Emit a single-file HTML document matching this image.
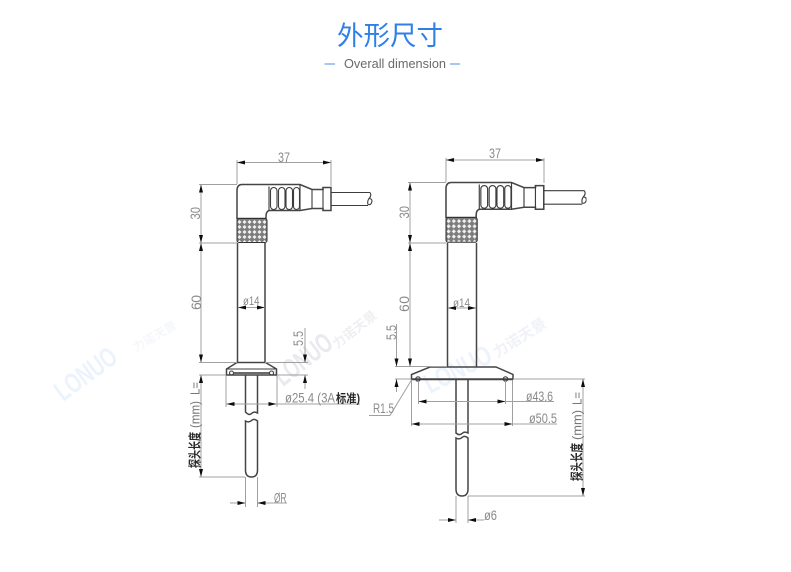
<!DOCTYPE html>
<html>
<head>
<meta charset="utf-8">
<style>
html,body{margin:0;padding:0;background:#fff}
body{width:791px;height:572px;overflow:hidden;position:relative}
svg{position:absolute;left:0;top:0}
text{font-family:"Liberation Sans","Noto Sans CJK SC",sans-serif}
.t{fill:#8a8a8a;font-size:14px}
.k{fill:#2a2a2a;font-size:13px;font-weight:700}
.d{stroke:#a0a0a0;stroke-width:1;fill:none}
.o{stroke:#3c3c3c;stroke-width:1.1;fill:none}
.ob{stroke:#444;stroke-width:1.5;fill:none}
.w{font-weight:700}
</style>
</head>
<body>
<svg width="791" height="572" viewBox="0 0 791 572" xmlns="http://www.w3.org/2000/svg">
<defs>
<marker id="a" viewBox="0 0 8 4" refX="8" refY="2" markerWidth="8" markerHeight="4" markerUnits="userSpaceOnUse" orient="auto-start-reverse"><path d="M0 0L8 2L0 4Z" fill="#111"/></marker>
<pattern id="kn" width="5" height="5" patternUnits="userSpaceOnUse"><rect width="5" height="5" fill="#7d7d7d"/><path d="M2.5 .5L4.5 2.5L2.5 4.5L.5 2.5Z" fill="#f2f2f2"/></pattern>
<filter id="b" x="0" y="0" width="100%" height="100%"><feGaussianBlur stdDeviation="0.3"/></filter>
<g id="head">
<path class="ob" d="M0 6Q0 0 5 0H63L75 5H86V3H94V26H86V24H75L63 26H32Q29 27 29 32V34H0Z"/>
<path class="o" d="M32 2V26M63 0V26M75 5V24M86 3V26"/>
<g class="o">
<rect x="33.5" y="3" width="6.5" height="22" rx="3.2"/>
<rect x="41.5" y="3" width="6.5" height="22" rx="3.2"/>
<rect x="49" y="3" width="6.5" height="22" rx="3.2"/>
<rect x="56.5" y="3" width="6" height="22" rx="3"/>
<path d="M94 8H133M94 21H131"/>
<path d="M133 8Q135 11 132 14Q130 17 131 20Q134 21 135 17Q135 14 132 14"/>
</g>
<rect x="0" y="34" width="30" height="24" rx="2" fill="url(#kn)" stroke="#333"/>
</g>
</defs>

<g class="w" fill="#edf3fc">
<text transform="translate(63,402) rotate(-36)" font-size="28" textLength="70" lengthAdjust="spacingAndGlyphs">LONUO</text>
<text transform="translate(136,352) rotate(-30)" font-size="12" fill="#f6f7fb">力诺天景</text>
<text transform="translate(283,387) rotate(-38)" font-size="28" fill="#e9e9ee" textLength="66" lengthAdjust="spacingAndGlyphs">LONUO</text>
<text transform="translate(337,349) rotate(-38)" font-size="13" fill="#efeff3">力诺天景</text>
<text transform="translate(430,394) rotate(-27)" font-size="28" textLength="72" lengthAdjust="spacingAndGlyphs">LONUO</text>
<text transform="translate(497,358) rotate(-32)" font-size="15" fill="#f0f2f8">力诺天景</text>
</g>

<text x="390" y="45" text-anchor="middle" style="font-family:'Noto Sans CJK SC','WenQuanYi Zen Hei',sans-serif" font-size="26.5" fill="#2f7fe8">外形尺寸</text>
<path d="M324.500 64H335M450 64H460" stroke="#4f8ce6" stroke-width="1"/>
<text x="344" y="68" font-size="12.500" fill="#6a6a6a" textLength="102" lengthAdjust="spacingAndGlyphs">Overall dimension</text>

<g filter="url(#b)">
<!-- LEFT -->
<use href="#head" transform="translate(237,184.500)"/>
<path class="ob" d="M237.500 243V362.500M265 243V362.500"/>
<path class="ob" d="M237 362.500L226.500 369V375H276.500V369L265.500 362.500H237Z"/>
<path class="o" d="M226.500 369H276.500"/>
<path stroke="#555" stroke-width="1.700" d="M234 373H270"/>
<circle class="o" cx="231.500" cy="373" r="2"/><circle class="o" cx="271.500" cy="373" r="2"/>
<path class="ob" d="M245.500 375V412Q249 416 251.500 413.500Q254 411 257.500 413V375"/>
<path class="ob" d="M245.500 421V470Q245.500 477 251.500 477Q257.500 477 257.500 470V421Q254 418 251.500 420.500Q249 423 245.500 421Z"/>

<g class="d">
<path d="M237 160V184M331 160V186M199 184.500H237M199 243H237M199 362.500H237M265 362.500H308M199 375H226M277 375H308M199 477H245M226 376V407M277 376V407M245.500 477V507M257.500 477V507M277 404H360"/>
<line x1="237" y1="162.500" x2="331" y2="162.500" marker-start="url(#a)" marker-end="url(#a)"/>
<line x1="201" y1="184.500" x2="201" y2="243" marker-start="url(#a)" marker-end="url(#a)"/>
<line x1="201" y1="243" x2="201" y2="362.500" marker-start="url(#a)" marker-end="url(#a)"/>
<line x1="201" y1="375" x2="201" y2="477" marker-start="url(#a)" marker-end="url(#a)"/>
<line x1="238" y1="307.500" x2="265" y2="307.500" marker-start="url(#a)" marker-end="url(#a)"/>
<line x1="226.500" y1="404" x2="276.500" y2="404" marker-start="url(#a)" marker-end="url(#a)"/>
<line x1="305" y1="328" x2="305" y2="362.500" marker-end="url(#a)"/>
<line x1="305" y1="389" x2="305" y2="375" marker-end="url(#a)"/>
<line x1="230" y1="503" x2="245.500" y2="503" marker-end="url(#a)"/>
<line x1="287" y1="503" x2="257.500" y2="503" marker-end="url(#a)"/>
</g>

<text class="t" x="278" y="162" textLength="12" lengthAdjust="spacingAndGlyphs">37</text>
<text class="t" transform="translate(200,219.500) rotate(-90)" textLength="12.500" lengthAdjust="spacingAndGlyphs">30</text>
<text class="t" transform="translate(201,310) rotate(-90)" textLength="15" lengthAdjust="spacing">60</text>
<text class="t" transform="translate(303,346) rotate(-90)" textLength="15" lengthAdjust="spacingAndGlyphs">5.5</text>
<text class="t" x="243" y="305" font-size="12" style="font-size:12px" textLength="16.500" lengthAdjust="spacingAndGlyphs">ø14</text>
<text class="t" x="285" y="402.500" style="font-size:13.500px" textLength="50" lengthAdjust="spacingAndGlyphs">ø25.4 (3A</text>
<text class="k" x="336" y="402.500" style="font-size:12px" textLength="24" lengthAdjust="spacingAndGlyphs">标准)</text>
<text class="t" x="274" y="502.500" textLength="12.500" lengthAdjust="spacingAndGlyphs">ØR</text>
<g transform="translate(199.500,472)" >
<g transform="rotate(-90)">
<text class="k" x="4" y="0" textLength="36" lengthAdjust="spacingAndGlyphs">探头长度</text>
<text class="t" x="44" y="0" style="font-size:13px;fill:#777" textLength="27" lengthAdjust="spacingAndGlyphs">(mm)</text>
<text class="t" x="77" y="0" style="font-size:13px;fill:#777" textLength="13" lengthAdjust="spacingAndGlyphs">L=</text>
</g>
</g>

<!-- RIGHT -->
<use href="#head" transform="translate(446,182.500) scale(1.040,1.030)"/>
<path class="ob" d="M447.500 243V366.500M476.500 243V366.500"/>
<path class="ob" d="M430 367H496L513 374.500V379H411.500V374.500Z"/>
<path class="ob" d="M412 379.500H513"/>
<circle class="o" cx="418" cy="379" r="2.200"/><circle class="o" cx="505.500" cy="379" r="2.200"/>
<path class="ob" d="M456 380V433Q459.500 436 462 433.500Q464.500 431 468 433V380"/>
<path class="ob" d="M456 438V489Q456 496 462 496Q468 496 468 489V438Q464.500 435 462 437.500Q459.500 440 456 438Z"/>

<g class="d">
<path d="M446 158V182M544 158V183M408 182.500H446M408 243H446M395 366.500H447M395 379H411M513 379H585M468 496H585M418.500 381V404M505.500 381V404M411.500 380V426M512.500 380V426M456 496V523M468 496V523M505.500 401.500H554M512.500 424H557"/>
<path d="M411.500 380L390 415.500H369"/>
<line x1="446" y1="160" x2="544" y2="160" marker-start="url(#a)" marker-end="url(#a)"/>
<line x1="410" y1="182.500" x2="410" y2="243" marker-start="url(#a)" marker-end="url(#a)"/>
<line x1="410" y1="243" x2="410" y2="366.500" marker-start="url(#a)" marker-end="url(#a)"/>
<line x1="583" y1="379" x2="583" y2="496" marker-start="url(#a)" marker-end="url(#a)"/>
<line x1="448" y1="308" x2="476" y2="308" marker-start="url(#a)" marker-end="url(#a)"/>
<line x1="396.500" y1="324" x2="396.500" y2="366.500" marker-end="url(#a)"/>
<line x1="396.500" y1="392" x2="396.500" y2="379" marker-end="url(#a)"/>
<line x1="418.500" y1="401.500" x2="505.500" y2="401.500" marker-start="url(#a)" marker-end="url(#a)"/>
<line x1="411.500" y1="424" x2="512.500" y2="424" marker-start="url(#a)" marker-end="url(#a)"/>
<line x1="439" y1="520" x2="456" y2="520" marker-end="url(#a)"/>
<line x1="484" y1="520" x2="468" y2="520" marker-end="url(#a)"/>
</g>

<text class="t" x="489" y="158" textLength="12" lengthAdjust="spacingAndGlyphs">37</text>
<text class="t" transform="translate(409,218.500) rotate(-90)" textLength="12.500" lengthAdjust="spacingAndGlyphs">30</text>
<text class="t" transform="translate(409,312) rotate(-90)" textLength="16" lengthAdjust="spacing">60</text>
<text class="t" transform="translate(396,340) rotate(-90)" textLength="15" lengthAdjust="spacingAndGlyphs">5.5</text>
<text class="t" x="453" y="307" style="font-size:12px" textLength="17" lengthAdjust="spacingAndGlyphs">ø14</text>
<text class="t" x="526" y="401" textLength="27" lengthAdjust="spacingAndGlyphs">ø43.6</text>
<text class="t" x="529" y="423" textLength="28" lengthAdjust="spacingAndGlyphs">ø50.5</text>
<text class="t" x="373" y="413" textLength="21" lengthAdjust="spacingAndGlyphs">R1.5</text>
<text class="t" x="484" y="520" textLength="13" lengthAdjust="spacingAndGlyphs">ø6</text>
<g transform="translate(581.500,483)">
<g transform="rotate(-90)">
<text class="k" x="2" y="0" textLength="38" lengthAdjust="spacingAndGlyphs">探头长度</text>
<text class="t" x="43" y="0" style="font-size:13px;fill:#777" textLength="30" lengthAdjust="spacingAndGlyphs">(mm)</text>
<text class="t" x="78" y="0" style="font-size:13px;fill:#777" textLength="13" lengthAdjust="spacingAndGlyphs">L=</text>
</g>
</g>
</g>
</svg>
</body>
</html>
